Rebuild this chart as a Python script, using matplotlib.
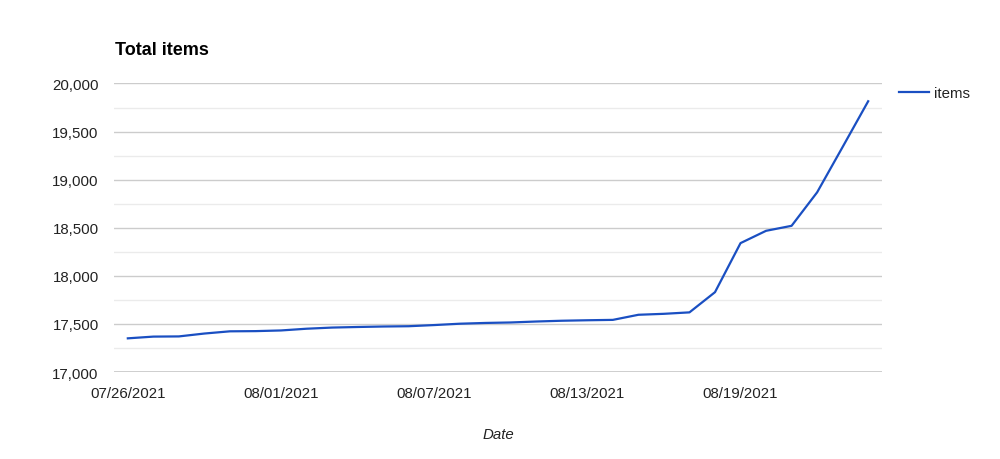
import pandas as pd
import matplotlib
matplotlib.use("Agg")
import matplotlib.pyplot as plt
import matplotlib.dates as mdates
from matplotlib.ticker import FuncFormatter, MultipleLocator

plt.rcParams['font.family'] = ['Liberation Sans', 'DejaVu Sans']

# daily item totals
items = [17350, 17368, 17370, 17400, 17423, 17425, 17432, 17450, 17462, 17468,
         17473, 17476, 17488, 17502, 17510, 17515, 17525, 17533, 17538, 17542,
         17595, 17605, 17620, 17830, 18340, 18468, 18520, 18868, 19340, 19815]
dates = pd.date_range("2021-07-26", periods=len(items), freq="D")
tick_dates = pd.to_datetime(["2021-07-26", "2021-08-01", "2021-08-07",
                             "2021-08-13", "2021-08-19"])
y_ticks = [17000, 17500, 18000, 18500, 19000, 19500, 20000]


def main():
    fig = plt.figure(figsize=(10, 4.6), dpi=100)
    ax = fig.add_axes([0.114, 0.1885, 0.768, 0.6285])

    ax.plot(dates, items, color='#1a4fc2', linewidth=1.6, label='items')

    ax.set_ylim(16997, 20003)
    ax.set_xlim(dates[0] - pd.Timedelta(hours=13),
                dates[-1] + pd.Timedelta(hours=13))
    ax.set_yticks(y_ticks)
    ax.yaxis.set_minor_locator(MultipleLocator(250))
    ax.yaxis.set_major_formatter(FuncFormatter(lambda v, p: f"{int(v):,}"))
    ax.set_xticks(tick_dates)
    ax.xaxis.set_major_formatter(mdates.DateFormatter("%m/%d/%Y"))

    ax.grid(axis='y', which='minor', color='#ebebeb', linewidth=1)
    ax.grid(axis='y', which='major', color='#cccccc', linewidth=1)
    ax.axhline(y_ticks[0], color='#c4c4c4', linewidth=1.1, zorder=1)
    ax.set_axisbelow(True)
    for s in ax.spines.values():
        s.set_visible(False)
    ax.tick_params(axis='both', which='both', length=0, labelsize=10.8,
                   labelcolor='#222222')
    ax.tick_params(axis='y', pad=11)
    ax.tick_params(axis='x', pad=10)

    ax.set_xlabel('Date', fontstyle='italic', fontsize=10.8, color='#222222',
                  labelpad=19)
    fig.text(0.115, 0.891, 'Total items', fontsize=13, fontweight='bold',
             ha='left', va='center')

    ax.legend(loc='upper left', bbox_to_anchor=(1.008, 1.025), frameon=False,
              fontsize=10.8, handlelength=2.0, handletextpad=0.35,
              borderaxespad=0.3, labelcolor='#222222')

    fig.savefig("out.png", dpi=100)
    plt.close(fig)


if __name__ == "__main__":
    main()
